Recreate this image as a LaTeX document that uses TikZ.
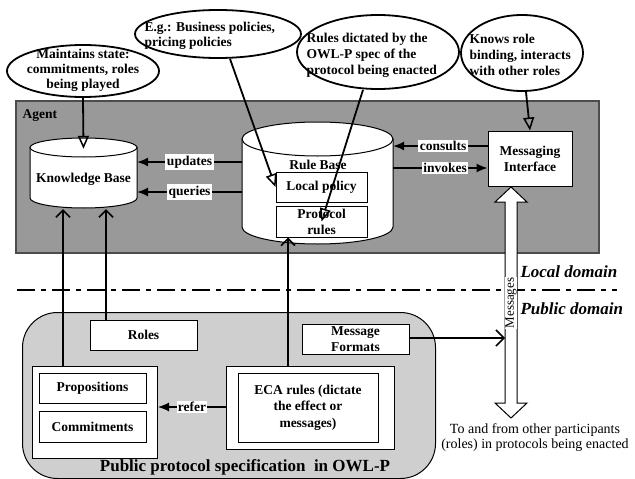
\documentclass[tikz,border=0pt]{standalone}
\usepackage{fontspec}
\setmainfont{Liberation Serif}
\usetikzlibrary{arrows.meta,shapes.geometric}
\begin{document}
\begin{tikzpicture}[x=1pt,y=-1pt,
  bf/.style={font=\fontsize{13.5}{15}\selectfont\bfseries},
  bfs/.style={font=\fontsize{13.5}{16}\selectfont\bfseries},
  box/.style={draw, fill=white, line width=1pt, inner sep=0pt, align=center, bfs},
  lbl/.style={fill=white, inner sep=1.5pt, bf},
  call/.style={draw, ellipse, line width=1.8pt, fill=white, inner sep=0pt},
  callline/.style={line width=1.8pt, -{Triangle[open, length=13pt, width=11pt, line width=1.5pt]}},
  fillarr/.style={line width=1.2pt, -{Latex[length=11pt,width=9pt]}},
  vee/.style={line width=1.6pt, -{Straight Barb[length=7pt,width=14pt]}},
  big/.style={font=\fontsize{17}{19}\selectfont\bfseries},
]
\useasboundingbox (0,0) rectangle (635,479);

% level coordinates
\coordinate (yUpd) at (0,162);
\coordinate (yQry) at (0,192);
\coordinate (yCon) at (0,146);
\coordinate (yInv) at (0,168);
\coordinate (yRef) at (0,407);
\coordinate (shaftW) at (505,0);
\coordinate (dashL) at (17,290);
\coordinate (dashR) at (617,290);

% Agent box
\node[draw=black!70, fill=black!40, line width=1.5pt, minimum width=583pt, minimum height=152pt, anchor=north west, inner sep=0pt] (agent) at (15,100) {};
\node[bf, anchor=west] (agentlbl) at (19,116) {Agent};

% Knowledge base cylinder
\draw[line width=1pt, fill=white] (30,147.5) -- (30,198) arc[start angle=180,end angle=0,x radius=53.5,y radius=10] -- (137,147.5) -- cycle;
\draw[line width=1pt, fill=white] (83.5,147.5) ellipse[x radius=53.5, y radius=9.5];
\node[bf, inner sep=0pt, minimum width=107pt, minimum height=60pt] (kb) at (83.5,179) {Knowledge Base};

% Rule base cylinder
\draw[line width=1pt, fill=white] (242,139) -- (242,227) arc[start angle=180,end angle=0,x radius=75.5,y radius=17] -- (393,139) -- cycle;
\draw[line width=1pt, fill=white] (317.5,139) ellipse[x radius=75.5, y radius=17];
\node[inner sep=0pt, minimum width=151pt, minimum height=88pt] (rb) at (317.5,183) {};
\node[bf] (rbt) at (318,165) {Rule Base};
\node[box, minimum width=91pt, minimum height=30pt] (lp) at (321.5,187) {Local policy};
\node[box, minimum width=91pt, minimum height=31pt] (pr) at (321.5,221.5) {Protocol\\rules};

% Messaging interface
\node[box, minimum width=84pt, minimum height=55pt] (mi) at (530,158.5) {Messaging\\Interface};

% agent arrows
\draw[fillarr] (rb.west |- yUpd) -- node[lbl]{updates} (kb.east |- yUpd);
\draw[fillarr] (rb.west |- yQry) -- node[lbl]{queries} (kb.east |- yQry);
\draw[fillarr] (mi.west |- yCon) -- node[lbl, pos=0.47]{consults} (rb.east |- yCon);
\draw[fillarr] (rb.east |- yInv) -- node[lbl, pos=0.55]{invokes} (mi.west |- yInv);

% callouts
\node[call, minimum width=166pt, minimum height=48pt] (e2) at (218,34) {};
\node[bf, align=left, anchor=west] (e2t) at (141,35.5) {E.g.: Business policies,\\pricing policies};
\node[call, minimum width=162pt, minimum height=74pt] (e3) at (378,52) {};
\node[bfs, align=left, anchor=west] (e3t) at (303,55) {Rules dictated by the\\OWL-P spec of the\\protocol being enacted};
\node[call, minimum width=152pt, minimum height=52pt] (e1) at (83,71) {};
\node[bf, align=center] (e1t) at (83,70) {Maintains state:\\commitments, roles\\being played};
\node[call, minimum width=122pt, minimum height=76pt] (e4) at (522,53) {};
\node[bfs, align=left, anchor=west] (e4t) at (466,55) {Knows role\\binding, interacts\\with other roles};

\draw[callline] (e1.south) -- (kb.north);
\draw[callline] ([xshift=12pt]e2.south) -- (lp.west);
\draw[callline] ([xshift=-15pt]e3.south) -- (pr.center);
\draw[callline] ([xshift=4pt]e4.south) -- (mi.north);

% domain separator
\draw[line width=2pt, dash pattern=on 18pt off 6pt on 5pt off 6pt] (dashL) -- (dashR);
\node[big, font=\fontsize{17}{19}\selectfont\bfseries\itshape, anchor=west] (loc) at (517,272) {Local domain};
\node[big, font=\fontsize{17}{19}\selectfont\bfseries\itshape, anchor=west] (pubd) at (517,309) {Public domain};

% public specification
\node[draw, fill=black!19, rounded corners=35pt, line width=1pt, minimum width=413pt, minimum height=166pt, anchor=north west, inner sep=0pt] (pub) at (22,312) {};
\node[big] (publbl) at (245,467) {Public protocol specification~ in OWL-P};
\node[box, minimum width=107pt, minimum height=30pt] (roles) at (143.5,335) {Roles};
\node[box, minimum width=107pt, minimum height=30pt] (mf) at (355.5,339) {Message\\Formats};
\node[box, minimum width=125pt, minimum height=92pt, anchor=north west] (pcbox) at (32,366) {};
\node[box, minimum width=107pt, minimum height=30pt] (prop) at (92.5,388) {Propositions};
\node[box, minimum width=107pt, minimum height=31pt] (com) at (92.5,426.5) {Commitments};
\node[box, minimum width=168pt, minimum height=83pt, anchor=north west] (ecabox) at (226,366) {};
\node[box, minimum width=140pt, minimum height=69pt, font=\fontsize{13.5}{16.5}\selectfont\bfseries] (eca) at (308,407.5) {ECA rules (dictate\\the effect or\\messages)};

\draw[fillarr] (ecabox.west |- yRef) -- node[lbl, inner sep=1pt]{refer} (pcbox.east |- yRef);

% vertical connectors to the agent
\draw[vee] ([xshift=31pt]pcbox.north west) -- ([xshift=31pt]pcbox.north west |- kb.south);
\draw[vee] ([xshift=-37.5pt]roles.north) -- ([xshift=-37.5pt]roles.north |- kb.south);
\draw[vee] ([xshift=-22.5pt]ecabox.north) -- ([xshift=-22.5pt]ecabox.north |- pr.south);

% messages arrow
\draw[line width=1pt, fill=white] (511,187) -- (527,202) -- (517,202) -- (517,403) -- (527,403) -- (511,418) -- (495,403) -- (505,403) -- (505,202) -- (495,202) -- cycle;
\node[rotate=90, fill=white, inner sep=0.5pt, font=\fontsize{13}{13}\selectfont] (msgs) at (511,303) {Messages};
\draw[line width=1.5pt, -{Straight Barb[length=8pt,width=16pt]}] ([yshift=1pt]mf.east) -- ([yshift=1pt]mf.east -| shaftW);

\node[font=\fontsize{14}{15}\selectfont, align=center] (other) at (535,437.5) {To and from other participants\\(roles) in protocols being enacted};
\end{tikzpicture}
\end{document}
